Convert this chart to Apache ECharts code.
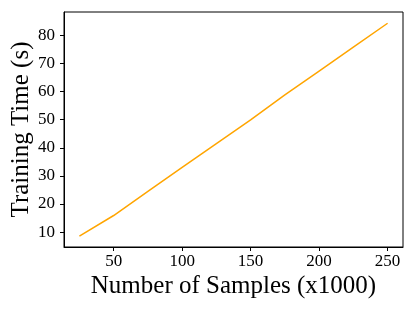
<!DOCTYPE html>
<html>
<head>
<meta charset="utf-8">
<script src="https://cdn.jsdelivr.net/npm/echarts@6/dist/echarts.min.js"></script>
<style>html,body{margin:0;padding:0;background:#fff;}#c{width:415px;height:311px;}</style>
</head>
<body>
<div id="c"></div>
<script>
const samples = [25, 50, 75, 100, 125, 150, 175, 200, 225, 250];
const trainingTime = [8.6, 15.9, 24.5, 33.0, 41.5, 49.9, 58.8, 67.3, 75.8, 84.3];
const xTicks = [50, 100, 150, 200, 250];
const yTicks = [10, 20, 30, 40, 50, 60, 70, 80];

const font = '"Liberation Serif", "Times New Roman", serif';
const chart = echarts.init(document.getElementById('c'), null, {renderer: 'canvas'});
chart.setOption({
  animation: false,
  grid: {left: 64, right: 12, top: 12, bottom: 64, containLabel: false, outerBoundsMode: 'none', show: true, borderColor: '#000', borderWidth: 1, backgroundColor: 'transparent'},
  xAxis: {
    type: 'value', min: 13.75, max: 261.25,
    name: 'Number of Samples (x1000)', nameLocation: 'middle', nameGap: 27, nameMoveOverlap: false,
    nameTextStyle: {fontFamily: font, fontSize: 25, color: '#000'},
    axisLine: {show: true, onZero: false, lineStyle: {color: '#000', width: 1}},
    axisTick: {show: true, length: 4, lineStyle: {color: '#000'}, customValues: xTicks},
    axisLabel: {fontFamily: font, fontSize: 17, color: '#000', margin: 6, customValues: xTicks},
    splitLine: {show: false}
  },
  yAxis: {
    type: 'value', min: 4.7, max: 88.3,
    name: 'Training Time (s)', nameLocation: 'middle', nameGap: 30, nameMoveOverlap: false,
    nameTextStyle: {fontFamily: font, fontSize: 25, color: '#000'},
    axisLine: {show: true, onZero: false, lineStyle: {color: '#000', width: 1}},
    axisTick: {show: true, length: 4, lineStyle: {color: '#000'}, customValues: yTicks},
    axisLabel: {fontFamily: font, fontSize: 17, color: '#000', margin: 9, customValues: yTicks},
    splitLine: {show: false}
  },
  series: [{
    type: 'line',
    data: samples.map((s, i) => [s, trainingTime[i]]),
    showSymbol: false, symbol: 'none',
    lineStyle: {color: '#FFA500', width: 1.5},
    itemStyle: {color: '#FFA500'}
  }]
});
</script>
</body>
</html>
